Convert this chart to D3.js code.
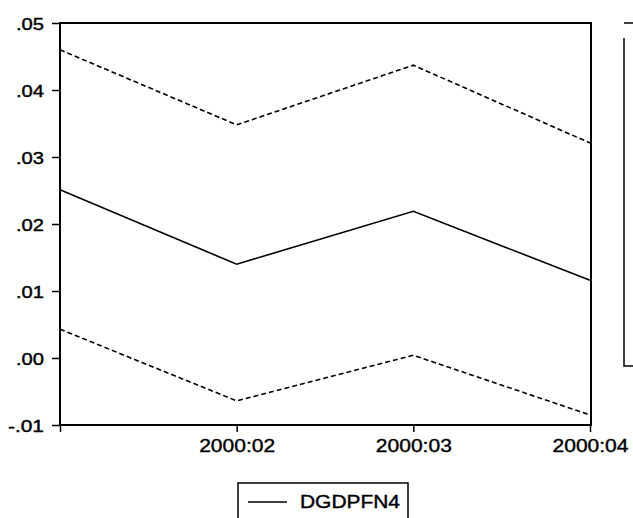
<!DOCTYPE html>
<html><head><meta charset="utf-8">
<script src="https://cdn.jsdelivr.net/npm/d3@7"></script>
<style>html,body{margin:0;padding:0;background:#fff;}svg{display:block;}</style>
</head><body>
<svg id="c" width="633" height="518"></svg>
<script>
const periods = ["2000:01", "2000:02", "2000:03", "2000:04"];
const tickLabels = ["", "2000:02", "2000:03", "2000:04"];
const forecast = [0.0251, 0.0140, 0.0219, 0.0116];
const upperBand = [0.0460, 0.0348, 0.0437, 0.0321];
const lowerBand = [0.0043, -0.0064, 0.0004, -0.0085];
const yTicks = [-0.01, 0.00, 0.01, 0.02, 0.03, 0.04, 0.05];
const yTickLabels = ["-.01", ".00", ".01", ".02", ".03", ".04", ".05"];
const legendLabel = "DGDPFN4";

const svg = d3.select("#c");
const L = 60, R = 591, T = 23, B = 425;
const x = d3.scalePoint().domain(periods).range([L, 590]);
const y = d3.scaleLinear().domain([-0.01, 0.05]).range([B, T]);
const font = "'Liberation Sans', Arial, sans-serif";

// frame
svg.append("rect").attr("x", L).attr("y", T).attr("width", R - L).attr("height", B - T)
  .attr("fill", "none").attr("stroke", "#000").attr("stroke-width", 2);

// y axis
const yAxis = d3.axisLeft(y).tickValues(yTicks).tickSize(8).tickPadding(8)
  .tickFormat((d, i) => yTickLabels[i]);
const gy = svg.append("g").attr("transform", `translate(${L},0)`).call(yAxis);
gy.select(".domain").remove();
gy.selectAll(".tick line").attr("stroke", "#000").attr("stroke-width", 1.5);
gy.selectAll(".tick text").attr("font-family", font).attr("font-size", 16).attr("fill", "#000")
  .attr("stroke", "#000").attr("stroke-width", 0.4)
  .attr("dy", "0.4em").attr("textLength", (d, i) => yTickLabels[i].length === 3 ? 28 : 36)
  .attr("lengthAdjust", "spacingAndGlyphs");

// x axis
const xAxis = d3.axisBottom(x).tickSize(7).tickPadding(7).tickFormat((d, i) => tickLabels[i]);
const gx = svg.append("g").attr("transform", `translate(0,${B})`).call(xAxis);
gx.select(".domain").remove();
gx.selectAll(".tick line").attr("stroke", "#000").attr("stroke-width", 1.5);
gx.selectAll(".tick text").attr("font-family", font).attr("font-size", 19).attr("fill", "#000")
  .attr("stroke", "#000").attr("stroke-width", 0.4)
  .attr("textLength", (d, i) => tickLabels[i] ? 76 : null)
  .attr("lengthAdjust", "spacingAndGlyphs");

const line = d3.line().x((d, i) => x(periods[i])).y(d => y(d));
svg.append("path").attr("d", line(upperBand)).attr("fill", "none").attr("stroke", "#000")
  .attr("stroke-width", 1.6).attr("stroke-dasharray", "5,3");
svg.append("path").attr("d", line(lowerBand)).attr("fill", "none").attr("stroke", "#000")
  .attr("stroke-width", 1.6).attr("stroke-dasharray", "5,3");
svg.append("path").attr("d", line(forecast)).attr("fill", "none").attr("stroke", "#000")
  .attr("stroke-width", 1.6);

// right partial legend box
svg.append("path").attr("d", "M624,23 L633,23 M624,38 L624,366 L633,366")
  .attr("fill", "none").attr("stroke", "#000").attr("stroke-width", 1.5);

// bottom legend
svg.append("path").attr("d", "M238,518 L238,483 L408,483 L408,518")
  .attr("fill", "none").attr("stroke", "#000").attr("stroke-width", 1.5);
svg.append("line").attr("x1", 248).attr("x2", 287).attr("y1", 502).attr("y2", 502)
  .attr("stroke", "#000").attr("stroke-width", 1.6);
svg.append("text").attr("x", 300).attr("y", 508).attr("font-family", font).attr("font-size", 18)
  .attr("stroke", "#000").attr("stroke-width", 0.4)
  .attr("textLength", 100).attr("lengthAdjust", "spacingAndGlyphs").text(legendLabel);
</script>
</body></html>
